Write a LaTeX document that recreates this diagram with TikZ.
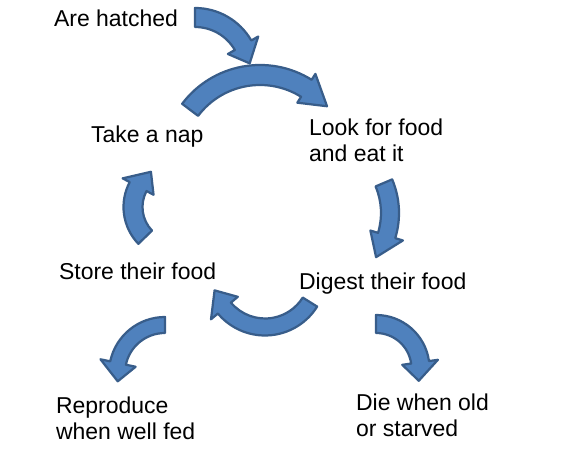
\documentclass[tikz,border=0pt]{standalone}
\usepackage{fontspec}
\setmainfont{Liberation Sans}
\usetikzlibrary{calc}
\definecolor{cfill}{HTML}{4F81BD}
\definecolor{cedge}{HTML}{385D8A}
\tikzset{
  every picture/.style={line width=1.9pt},
  bent/.style={fill=cfill, draw=cedge, line join=round},
  label/.style={font=\fontsize{19.6}{22.8}\selectfont, inner sep=0pt, anchor=base west, align=left},
}
\begin{document}
\begin{tikzpicture}[scale=0.03]
  \useasboundingbox (0,0) rectangle (563,455);
  \fill[white] (0,0) rectangle (563,455);
  % curved block arrows: centre / radius / half width / tail, head base, tip angle / barb
  \foreach \cx/\cy/\rad/\hw/\sa/\ha/\ta/\bx in {195/382/55.5/9.5/90/30/10/8, 260/292.5/87.5/10/143/58/40/7,
      313/242/77/9/23/-17/-35/8, 265/181/53/8.5/-32/-140/-162/9, 176.5/248/43.5/9.5/224/152/126/8,
      165/82/48/8/90/168/190/10, 376/86.5/44.5/9/90/8/-16/9} {
    \filldraw[bent] ($(\cx,\cy)+(\sa:\rad+\hw)$) arc[start angle=\sa, end angle=\ha, radius=\rad+\hw]
      -- ($(\cx,\cy)+(\ha:\rad+\hw+\bx)$) -- ($(\cx,\cy)+(\ta:\rad)$) -- ($(\cx,\cy)+(\ha:\rad-\hw-\bx)$)
      -- ($(\cx,\cy)+(\ha:\rad-\hw)$) arc[start angle=\ha, end angle=\sa, radius=\rad-\hw] -- cycle;
  }
  \node[label] (hatched) at (53,428) {Are hatched};
  \node[label] (nap) at (90,312) {Take a nap};
  \node[label] (look) at (308,293) {Look for food\\and eat it};
  \node[label] (store) at (58,175) {Store their food};
  \node[label] (digest) at (298,165) {Digest their food};
  \node[label] (reproduce) at (55,15) {Reproduce\\when well fed};
  \node[label] (die) at (355,18) {Die when old\\or starved};
\end{tikzpicture}
\end{document}
